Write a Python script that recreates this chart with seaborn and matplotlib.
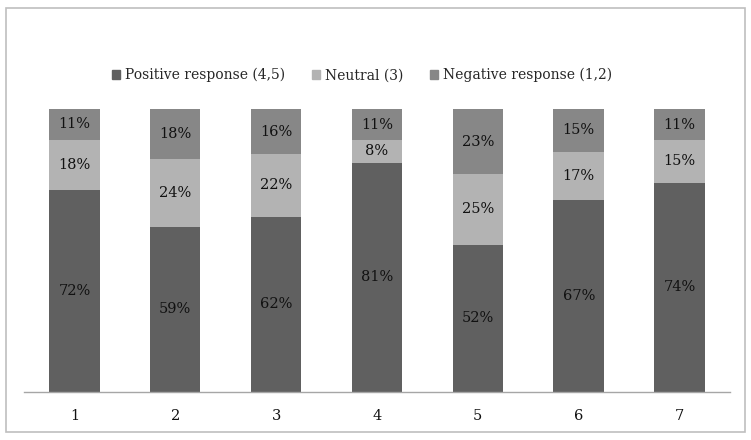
import numpy as np
import pandas as pd
import seaborn as sns
import matplotlib.pyplot as plt
from matplotlib.patches import Rectangle, Patch

# --- data ---
items = ["1", "2", "3", "4", "5", "6", "7"]
positive = [72, 59, 62, 81, 52, 67, 74]
neutral = [18, 24, 22, 8, 25, 17, 15]
negative = [11, 18, 16, 11, 23, 15, 11]

C_POS = "#606060"
C_NEU = "#b3b3b3"
C_NEG = "#878787"

sns.set_theme(style="white")
plt.rcParams['font.family'] = ['DejaVu Serif']

df = pd.DataFrame({"item": items, "pos": positive, "neu": neutral, "neg": negative})
tot = df[["pos", "neu", "neg"]].sum(axis=1)
# 100% stacked: normalise each column
df["pos_n"] = df["pos"] / tot * 100
df["neu_n"] = df["neu"] / tot * 100
df["neg_n"] = df["neg"] / tot * 100
df["top"] = 100.0
df["mid"] = df["pos_n"] + df["neu_n"]

fig = plt.figure(figsize=(7.51, 4.40), dpi=100)
ax = fig.add_axes([24 / 751, 48 / 440, 706 / 751, 283 / 440])

# back-to-front cumulative bars
for col, c in [("top", C_NEG), ("mid", C_NEU), ("pos_n", C_POS)]:
    sns.barplot(data=df, x="item", y=col, color=c, width=0.5, saturation=1,
                linewidth=0, ax=ax)

for i, r in df.iterrows():
    ax.text(i, r["pos_n"] / 2, f"{r['pos']}%", ha="center", va="center", fontsize=10.5, color="#111111")
    ax.text(i, r["pos_n"] + r["neu_n"] / 2, f"{r['neu']}%", ha="center", va="center", fontsize=10.5, color="#111111")
    ax.text(i, r["mid"] + r["neg_n"] / 2, f"{r['neg']}%", ha="center", va="center", fontsize=10.5, color="#111111")

ax.set_xlim(-0.5, 6.5)
ax.set_ylim(0, 100)
ax.set_xlabel("")
ax.set_ylabel("")
ax.set_yticks([])
ax.tick_params(axis="x", length=0, pad=12, labelsize=10.5, colors="#111111")
for s in ["top", "right", "left"]:
    ax.spines[s].set_visible(False)
ax.spines["bottom"].set_color("#a6a6a6")
ax.spines["bottom"].set_linewidth(1)

handles = [Patch(color=C_POS, label="Positive response (4,5)"),
           Patch(color=C_NEU, label="Neutral (3)"),
           Patch(color=C_NEG, label="Negative response (1,2)")]
fig.legend(handles=handles, loc="center", bbox_to_anchor=(362 / 751, 1 - 75 / 440),
           ncol=3, frameon=False, fontsize=10, handlelength=0.6, handleheight=0.6,
           handletextpad=0.35, columnspacing=1.9)

# outer chart border
fig.patches.append(Rectangle((6 / 751, 8 / 440), 739 / 751, 424 / 440, transform=fig.transFigure,
                             fill=False, edgecolor="#bfbfbf", linewidth=1.2))

fig.savefig("out.png", dpi=100)
